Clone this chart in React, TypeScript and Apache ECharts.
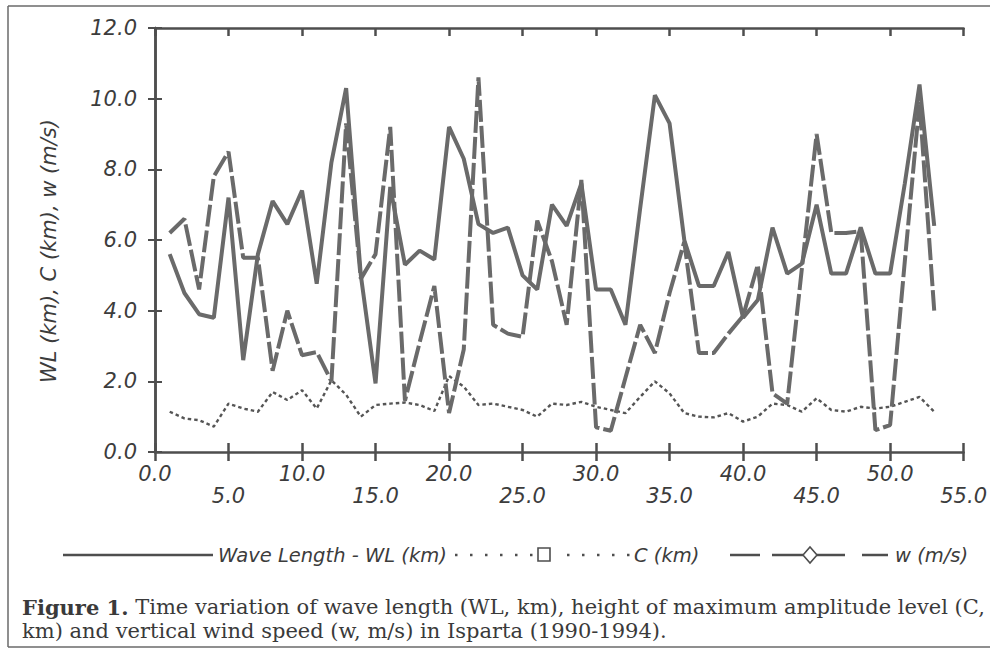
import React, { useEffect, useRef } from 'react';
import * as echarts from 'echarts';

// time index (x axis)
const months = [
  1, 2, 3, 4, 5, 6, 7, 8, 9, 10, 11, 12, 13, 14, 15, 16, 17, 18, 19, 20,
  21, 22, 23, 24, 25, 26, 27, 28, 29, 30, 31, 32, 33, 34, 35, 36, 37, 38, 39, 40,
  41, 42, 43, 44, 45, 46, 47, 48, 49, 50, 51, 52, 53,
];

// Wave Length - WL (km)
const wlValues = [
  5.6, 4.5, 3.9, 3.8, 7.2, 2.6, 5.6, 7.1, 6.45, 7.4, 4.76, 8.2, 10.3, 5.0, 1.94, 7.5, 5.3, 5.7, 5.45, 9.2,
  8.3, 6.45, 6.2, 6.35, 5.0, 4.6, 7.0, 6.4, 7.6, 4.6, 4.6, 3.6, 6.9, 10.1, 9.3, 6.0, 4.7, 4.7, 5.66, 3.8,
  4.3, 6.35, 5.05, 5.33, 7.0, 5.05, 5.05, 6.36, 5.05, 5.05, 7.6, 10.4, 6.4,
];

// C (km)
const cValues = [
  1.14, 0.95, 0.9, 0.72, 1.37, 1.23, 1.14, 1.7, 1.47, 1.75, 1.23, 2.03, 1.62, 1.0, 1.33, 1.37, 1.4, 1.33, 1.16, 2.15,
  1.85, 1.33, 1.37, 1.28, 1.19, 1.0, 1.37, 1.33, 1.42, 1.28, 1.19, 1.1, 1.56, 2.0, 1.66, 1.1, 1.0, 0.98, 1.1, 0.86,
  1.0, 1.37, 1.33, 1.14, 1.52, 1.19, 1.14, 1.28, 1.23, 1.28, 1.42, 1.56, 1.14,
];

// w (m/s)
const wValues = [
  6.2, 6.6, 4.6, 7.8, 8.5, 5.5, 5.5, 2.3, 4.0, 2.74, 2.83, 2.0, 9.3, 4.9, 5.6, 9.2, 1.45, 3.1, 4.7, 1.1,
  2.9, 10.6, 3.6, 3.35, 3.26, 6.55, 5.4, 3.6, 7.7, 0.7, 0.6, 2.1, 3.6, 2.8, 4.5, 5.95, 2.8, 2.8, 3.35, 3.85,
  5.3, 1.66, 1.37, 5.2, 9.0, 6.2, 6.2, 6.25, 0.62, 0.76, 5.4, 9.9, 4.0,
];

const seriesNames = ['Wave Length - WL (km)', 'C (km)', 'w (m/s)'];
const yAxisTitle = 'WL (km), C (km), w (m/s)';
const captionLine1 = 'Time variation of wave length (WL, km), height of maximum amplitude level (C,';
const captionLine2 = 'km) and vertical wind speed (w, m/s) in Isparta (1990-1994).';
const captionLabel = 'Figure 1.';

const AXIS = '#4e4e4e';
const TEXT = '#3c3c3c';
const LINE = '#6a6a6a';
const SANS = '"DejaVu Sans", sans-serif';
const SERIF = '"DejaVu Serif", serif';

export default function App() {
  const ref = useRef<HTMLDivElement>(null);

  useEffect(() => {
    if (!ref.current) return;
    const chart = echarts.init(ref.current, null, { renderer: 'svg' });

    const pairs = (vals: number[]) => months.map((m, i) => [m, vals[i]]);

    const xCommon = {
      type: 'value' as const,
      min: 0,
      max: 55,
      interval: 5,
      splitLine: { show: false },
    };
    const yCommon = {
      type: 'value' as const,
      min: 0,
      max: 12,
      interval: 2,
      splitLine: { show: false },
    };

    const legendY = 555;
    const legendFont = `italic 19.5px ${SANS}`;
    const dots = [2.5, 12.5];

    const option: any = {
      animation: false,
      backgroundColor: '#ffffff',
      grid: { left: 155, right: 19, top: 28, bottom: 197, containLabel: false },
      xAxis: [
        {
          ...xCommon,
          position: 'bottom',
          axisLine: { show: true, lineStyle: { color: AXIS, width: 2.5 } },
          axisTick: { show: true, inside: false, length: 9, lineStyle: { color: AXIS, width: 2.5 } },
          axisLabel: {
            show: true,
            margin: 11,
            color: TEXT,
            fontSize: 21,
            fontStyle: 'italic',
            fontFamily: SANS,
            lineHeight: 22,
            formatter: (v: number) => (v % 10 === 0 ? v.toFixed(1) : '\n' + v.toFixed(1)),
          },
        },
        {
          ...xCommon,
          position: 'bottom',
          axisLine: { show: false },
          axisTick: { show: true, inside: true, length: 9, lineStyle: { color: AXIS, width: 2.5 } },
          axisLabel: { show: false },
        },
        {
          ...xCommon,
          position: 'top',
          axisLine: { show: true, lineStyle: { color: AXIS, width: 2.5 } },
          axisTick: { show: true, inside: true, length: 8, lineStyle: { color: AXIS, width: 2.5 } },
          axisLabel: { show: false },
        },
      ],
      yAxis: [
        {
          ...yCommon,
          position: 'left',
          axisLine: { show: true, lineStyle: { color: AXIS, width: 2.5 } },
          axisTick: { show: true, inside: true, length: 7, lineStyle: { color: AXIS, width: 2 } },
          axisLabel: {
            show: true,
            margin: 18,
            color: TEXT,
            fontSize: 21,
            fontStyle: 'italic',
            fontFamily: SANS,
            formatter: (v: number) => v.toFixed(1),
          },
        },
        {
          ...yCommon,
          position: 'right',
          axisLine: { show: true, lineStyle: { color: AXIS, width: 2.5 } },
          axisTick: { show: true, inside: true, length: 7, lineStyle: { color: AXIS, width: 2 } },
          axisLabel: { show: false },
        },
      ],
      series: [
        {
          name: seriesNames[0],
          type: 'line',
          xAxisIndex: 0,
          yAxisIndex: 0,
          data: pairs(wlValues),
          symbol: 'none',
          showSymbol: false,
          silent: true,
          lineStyle: { color: LINE, width: 4, type: 'solid' },
        },
        {
          name: seriesNames[1],
          type: 'line',
          xAxisIndex: 0,
          yAxisIndex: 0,
          data: pairs(cValues),
          symbol: 'none',
          showSymbol: false,
          silent: true,
          lineStyle: { color: '#555555', width: 2.4, type: [3.5, 3] },
        },
        {
          name: seriesNames[2],
          type: 'line',
          xAxisIndex: 0,
          yAxisIndex: 0,
          data: pairs(wValues),
          symbol: 'none',
          showSymbol: false,
          silent: true,
          lineStyle: { color: LINE, width: 4, type: [22, 4] },
        },
      ],
      graphic: [
        // outer figure frame
        { type: 'line', shape: { x1: 8, y1: 6, x2: 990, y2: 6 }, style: { stroke: '#6a6a6a', lineWidth: 1.5 } },
        { type: 'line', shape: { x1: 8, y1: 6, x2: 8, y2: 647 }, style: { stroke: '#6a6a6a', lineWidth: 1.5 } },
        { type: 'line', shape: { x1: 8, y1: 647, x2: 990, y2: 647 }, style: { stroke: '#6a6a6a', lineWidth: 1.5 } },
        // y axis title
        {
          type: 'text',
          x: 49,
          y: 251,
          rotation: Math.PI / 2,
          style: {
            text: yAxisTitle,
            font: `italic 21px ${SANS}`,
            fill: TEXT,
            align: 'center',
            verticalAlign: 'middle',
          },
        },
        // legend: WL
        { type: 'line', shape: { x1: 63, y1: legendY, x2: 213, y2: legendY }, style: { stroke: AXIS, lineWidth: 2.5 } },
        {
          type: 'text', x: 218, y: legendY,
          style: { text: seriesNames[0], font: legendFont, fill: TEXT, align: 'left', verticalAlign: 'middle' },
        },
        // legend: C
        { type: 'line', shape: { x1: 455, y1: legendY, x2: 536, y2: legendY }, style: { stroke: AXIS, lineWidth: 2.5, lineDash: dots } },
        { type: 'rect', shape: { x: 538, y: 548, width: 12, height: 13 }, style: { stroke: AXIS, fill: '#ffffff', lineWidth: 1.6 } },
        { type: 'line', shape: { x1: 567, y1: legendY, x2: 632, y2: legendY }, style: { stroke: AXIS, lineWidth: 2.5, lineDash: dots } },
        {
          type: 'text', x: 634, y: legendY,
          style: { text: seriesNames[1], font: legendFont, fill: TEXT, align: 'left', verticalAlign: 'middle' },
        },
        // legend: w
        { type: 'line', shape: { x1: 730, y1: legendY, x2: 760, y2: legendY }, style: { stroke: AXIS, lineWidth: 2.5 } },
        { type: 'line', shape: { x1: 772, y1: legendY, x2: 803, y2: legendY }, style: { stroke: AXIS, lineWidth: 2.5 } },
        { type: 'line', shape: { x1: 817, y1: legendY, x2: 845, y2: legendY }, style: { stroke: AXIS, lineWidth: 2.5 } },
        { type: 'line', shape: { x1: 862, y1: legendY, x2: 888, y2: legendY }, style: { stroke: AXIS, lineWidth: 2.5 } },
        {
          type: 'polygon',
          shape: { points: [[803, legendY], [810, legendY - 8], [817, legendY], [810, legendY + 8]] },
          style: { stroke: AXIS, fill: '#ffffff', lineWidth: 1.6 },
        },
        {
          type: 'text', x: 895, y: legendY,
          style: { text: seriesNames[2], font: legendFont, fill: TEXT, align: 'left', verticalAlign: 'middle' },
        },
        // caption
        {
          type: 'text', x: 22, y: 607,
          style: {
            text: `{b|${captionLabel}} ${captionLine1}`,
            font: `21px ${SERIF}`,
            fill: '#3a3a3a',
            align: 'left',
            verticalAlign: 'middle',
            rich: { b: { fontWeight: 'bold', fontFamily: SERIF, fontSize: 21, fill: '#3a3a3a' } },
          },
        },
        {
          type: 'text', x: 22, y: 631,
          style: { text: captionLine2, font: `21px ${SERIF}`, fill: '#3a3a3a', align: 'left', verticalAlign: 'middle' },
        },
      ],
    };

    chart.setOption(option);
    return () => chart.dispose();
  }, []);

  return <div ref={ref} style={{ position: 'absolute', left: 0, top: 0, width: 990, height: 649 }} />;
}
